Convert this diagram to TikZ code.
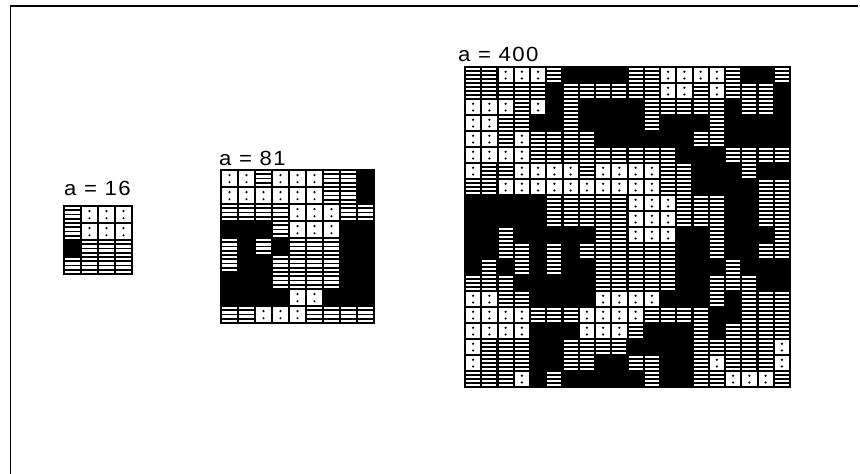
\documentclass[tikz,border=0pt]{standalone}
\usepackage{fontspec}
\newfontfamily\lblfont{Liberation Sans}[FakeStretch=1.08,LetterSpace=7]
% #1 x, #2 y, #3 cell width, #4 cell height
\newcommand\cellB[4]{}
\newcommand\cellD[4]{%
  \fill[white] ({#1+1},{#2+1}) rectangle ({#1+#3-1},{#2+#4-1});
  \fill[black] ({#1+#3/2},{#2+0.3*#4}) circle (1.2);
  \fill[black] ({#1+#3/2},{#2+0.72*#4}) circle (1.2);}
\newcommand\cellS[4]{%
  \foreach \k in {0,1,2,3}{%
    \fill[white] ({#1+1.1},{#2+0.8+\k*#4/4}) rectangle ({#1+#3-1.1},{#2+0.8+\k*#4/4+0.6*#4/4});}}
% #1 x0, #2 y0, #3 cell width, #4 cell height, #5 n, #6 rows
\newcommand\lattice[6]{%
  \fill[black] ({#1-0.7},{#2-0.7}) rectangle ({#1+#5*#3+0.7},{#2+#5*#4+0.7});
  \foreach \rc [count=\r from 0] in {#6}{%
    \foreach \t [count=\c from 0] in \rc {%
      \pgfmathsetmacro\X{#1+\c*#3}\pgfmathsetmacro\Y{#2+\r*#4}%
      \csname cell\t\endcsname{\X}{\Y}{#3}{#4}}}}
\tikzset{lbl/.style={anchor=base west,inner sep=0pt,font=\lblfont\fontsize{20.5}{20.5}\selectfont}}
\begin{document}
\begin{tikzpicture}[x=1pt,y=-1pt]
\useasboundingbox (0,0) rectangle (860,474);
\fill[white] (0,0) rectangle (860,474);
% frame
\draw[line width=1.4pt] (858,6) -- (10.5,6) -- (10.5,474);
% labels
\node[lbl] (l16) at (64,195) {a = 16};
\node[lbl] (l81) at (219,165) {a = 81};
\node[lbl] (l400) at (458,61) {a = 400};
% lattice a=16
\lattice{64}{206}{17}{17}{4}{{S,D,D,D},{S,D,D,D},{B,S,S,S},{S,S,S,S}}
% lattice a=81
\lattice{221}{170}{17}{17}{9}{%
{D,D,S,D,D,D,S,S,B},
{D,D,D,D,D,D,S,S,B},
{S,S,S,S,D,D,D,S,S},
{B,B,B,S,D,D,D,B,B},
{S,B,S,B,S,S,S,B,B},
{S,B,B,S,S,S,S,B,B},
{B,B,B,S,S,S,S,B,B},
{B,B,B,B,D,D,B,B,B},
{S,S,D,D,D,S,S,S,S}}
% lattice a=400
\lattice{465}{67}{16.25}{16}{20}{%
{S,S,D,D,D,S,B,B,B,B,S,S,D,D,D,D,S,B,B,S},
{S,S,S,S,S,B,S,S,S,S,S,S,D,D,S,D,S,S,S,B},
{D,D,D,S,D,B,S,B,B,B,B,S,S,S,S,S,B,S,S,B},
{D,D,S,S,B,B,S,B,B,B,B,S,B,B,B,S,B,B,B,B},
{D,D,S,D,S,S,S,S,B,B,B,B,B,B,S,S,B,B,B,B},
{D,D,D,D,S,S,S,S,S,S,S,S,S,B,B,B,S,S,S,S},
{D,S,S,D,D,D,D,S,D,D,D,D,S,S,B,B,B,S,B,B},
{S,S,D,D,D,D,D,D,D,D,D,D,S,S,B,B,B,B,S,S},
{B,B,B,B,B,S,S,S,S,S,D,D,D,S,S,S,B,B,S,S},
{B,B,B,B,B,S,S,S,S,S,D,D,D,S,S,S,B,B,S,S},
{B,B,S,B,B,B,B,B,S,S,D,D,D,B,B,S,B,B,B,S},
{B,B,S,S,B,S,B,S,S,S,S,S,S,B,B,S,B,B,S,S},
{B,S,B,S,B,S,B,B,S,S,S,S,S,B,B,B,S,B,B,B},
{S,S,S,B,B,B,B,B,S,S,S,S,S,B,B,S,S,S,B,B},
{D,D,S,S,B,B,B,B,D,D,D,D,B,B,B,S,B,S,S,S},
{D,D,D,D,S,S,S,D,D,D,D,S,S,S,S,B,B,S,S,S},
{D,D,D,D,B,B,B,D,D,D,S,B,B,B,S,B,S,S,S,S},
{D,S,S,S,B,B,S,S,S,S,B,B,B,B,S,S,S,S,S,D},
{D,S,S,S,B,B,S,S,B,B,S,S,B,B,S,D,S,S,S,D},
{S,S,S,D,B,S,B,B,B,B,B,S,B,B,S,S,D,D,D,S}}
\end{tikzpicture}
\end{document}
